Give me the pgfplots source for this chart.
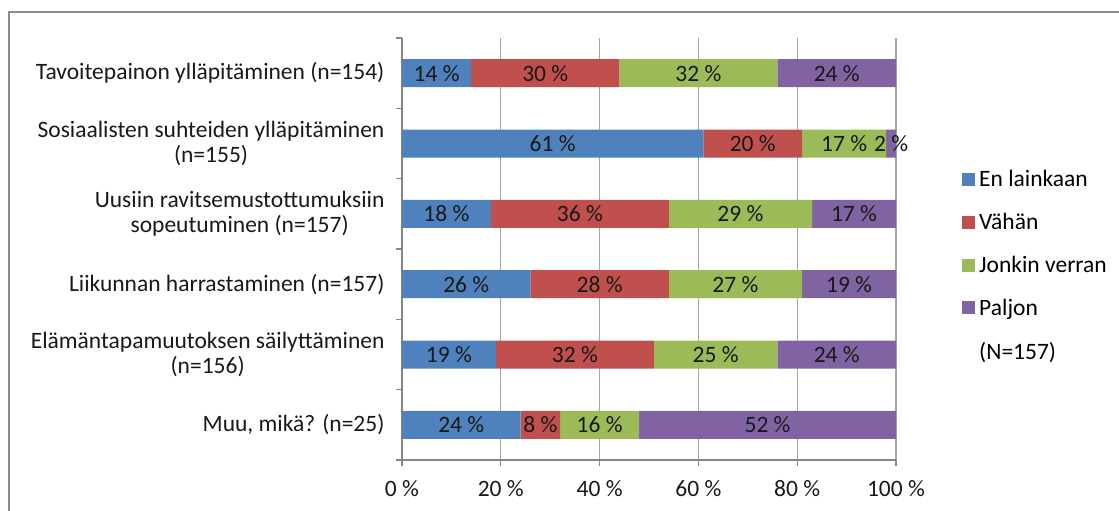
\documentclass[border=0pt]{standalone}
\usepackage{pgfplots}
\pgfplotsset{compat=1.18}
\usepackage{fontspec}
\setmainfont{Carlito}
\definecolor{cBlue}{HTML}{4F81BD}
\definecolor{cRed}{HTML}{C0504D}
\definecolor{cGreen}{HTML}{9BBB59}
\definecolor{cPurple}{HTML}{8064A2}
\definecolor{gridgray}{HTML}{A6A6A6}
\definecolor{axisgray}{HTML}{868686}
\definecolor{framegray}{HTML}{8C8C8C}
\newcommand\fs{\fontsize{23.5pt}{25pt}\selectfont}

\begin{document}
\begin{tikzpicture}[x=1pt,y=1pt]
\path[use as bounding box] (0,0) rectangle (1119,511);
% chart frame (left and top edges)
\draw[framegray, line width=1.6pt] (9,-20) -- (9,499) -- (1140,499);
\begin{axis}[
  at={(402pt,51pt)}, anchor=south west,
  scale only axis, width=494pt, height=422pt,
  xbar stacked, bar width=28pt,
  xmin=0, xmax=100, ymin=-0.5, ymax=5.5, y dir=reverse,
  axis x line*=bottom, axis y line*=left,
  axis line style={axisgray, line width=1.2pt},
  tick align=outside,
  xtick={0,20,...,100},
  xticklabels={0 \%,20 \%,40 \%,60 \%,80 \%,100 \%},
  xmajorgrids, major grid style={gridgray, line width=1.2pt},
  major x tick style={axisgray, line width=1.2pt},
  major tick length=6pt,
  ytick={0,...,5},
  major y tick style={draw=none},
  minor ytick={-0.5,0.5,...,5.5},
  minor tick length=6pt,
  minor y tick style={axisgray, line width=1.2pt},
  yticklabels={
    {Tavoitepainon ylläpitäminen (n=154)},
    {Sosiaalisten suhteiden ylläpitäminen\\(n=155)},
    {Uusiin ravitsemustottumuksiin\\sopeutuminen (n=157)},
    {Liikunnan harrastaminen (n=157)},
    {Elämäntapamuutoksen säilyttäminen\\(n=156)},
    {Muu, mikä? (n=25)}},
  yticklabel style={font=\fs, align=center, xshift=-8pt, text=black!90},
  xticklabel style={font=\fs, yshift=-11pt, text=black!90},
  /pgf/number format/assume math mode=true,
  visualization depends on={rawx \as \rawx},
  nodes near coords={\pgfmathprintnumber{\rawx}\ \%},
  every node near coord/.append style={anchor=center, font=\fs, text=black!90},
  legend style={at={(1.1336,0.691)}, anchor=north west, draw=none, fill=none,
    font=\fs, row sep=21pt, inner sep=0pt,
    /tikz/every odd column/.append style={column sep=2pt}},
  legend cell align=left,
  legend image code/.code={\fill[#1] (0pt,-6.5pt) rectangle (13pt,6.5pt);},
]
\addplot[fill=cBlue, draw=none] coordinates {(14,0) (61,1) (18,2) (26,3) (19,4) (24,5)};
\addplot[fill=cRed, draw=none] coordinates {(30,0) (20,1) (36,2) (28,3) (32,4) (8,5)};
\addplot[fill=cGreen, draw=none] coordinates {(32,0) (17,1) (29,2) (27,3) (25,4) (16,5)};
\addplot[fill=cPurple, draw=none] coordinates {(24,0) (2,1) (17,2) (19,3) (24,4) (52,5)};
\legend{En lainkaan, Vähän, Jonkin verran, Paljon}
\addlegendimage{empty legend}
\addlegendentry{(N=157)}
\end{axis}
\end{tikzpicture}
\end{document}
